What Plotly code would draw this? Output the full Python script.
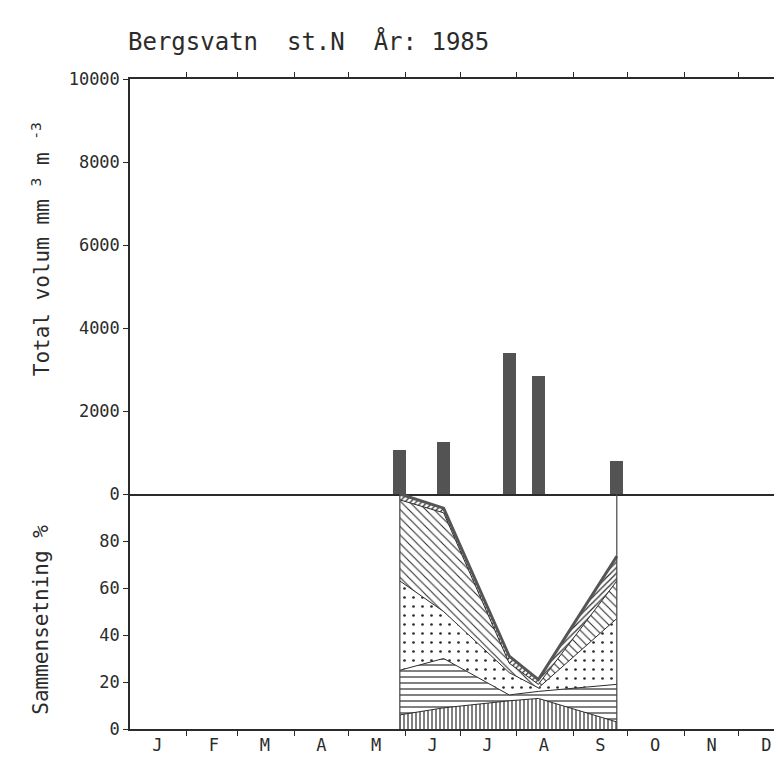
import datetime as dt
import plotly.graph_objects as go
from plotly.subplots import make_subplots

# ---------------- data ----------------
sample_dates = ["1985-05-29", "1985-06-22", "1985-07-28", "1985-08-13", "1985-09-25"]
total_volume = [1050, 1250, 3400, 2850, 800]          # mm3 m-3

# composition (%) per group, bottom to top
grp_vertical = [6, 9, 12, 13, 3]
grp_horizontal = [19, 21, 2.5, 3, 16]
grp_dotted = [38, 20, 9.5, 1.5, 28]
grp_backslash = [34.5, 42, 4, 1.5, 16]
grp_slash = [2.5, 2, 3, 2, 10.5]

month_letters = ["J", "F", "M", "A", "M", "J", "J", "A", "S", "O", "N", "D"]
vol_ticks = [0, 2000, 4000, 6000, 8000, 10000]
vol_tick_text = ["0", "2000", "4000", "6000", "8000", "10000"]
pct_ticks = [0, 20, 40, 60, 80]
pct_tick_text = ["0", "20", "40", "60", "80"]

YEAR = 1985
month_starts = [dt.date(YEAR, m, 1).isoformat() for m in range(2, 13)]
month_mids = [dt.date(YEAR, m, 16).isoformat() for m in range(1, 13)]

INK = "#2b2b2b"
FONT = "DejaVu Sans Mono"

fig = make_subplots(rows=2, cols=1, shared_xaxes=True, vertical_spacing=0,
                    row_heights=[415 / 650, 235 / 650])

# total volume bars
fig.add_trace(go.Bar(x=sample_dates, y=total_volume, width=7 * 86400000,
                     marker=dict(color="#535353", line=dict(width=0)),
                     showlegend=False), row=1, col=1)

layers = [
    (grp_vertical, dict(shape="|", size=4, solidity=0.3)),
    (grp_horizontal, dict(shape="-", size=6, solidity=0.2)),
    (grp_dotted, dict(shape=".", size=9, solidity=0.07)),
    (grp_backslash, dict(shape="\\", size=6, solidity=0.18)),
    (grp_slash, dict(shape="/", size=4, solidity=0.3)),
]
for i, (vals, pat) in enumerate(layers):
    last = i == len(layers) - 1
    pat.update(fgcolor=INK, bgcolor="white", fillmode="replace")
    fig.add_trace(go.Scatter(
        x=sample_dates, y=vals, stackgroup="comp", mode="lines",
        line=dict(color="#555555" if last else INK, width=3 if last else 1),
        fillcolor="white", fillpattern=pat, showlegend=False,
        hoverinfo="skip"), row=2, col=1)

# edges of the composition block at first and last sampling date
for d in (sample_dates[0], sample_dates[-1]):
    fig.add_trace(go.Scatter(x=[d, d], y=[0, 100], mode="lines",
                             line=dict(color="#444444", width=1.2),
                             showlegend=False, hoverinfo="skip"), row=2, col=1)

xrange = ["1985-01-01", "1985-12-29"]
axis_common = dict(showgrid=False, zeroline=False, showline=True,
                   linecolor=INK, linewidth=1.5, tickcolor=INK,
                   tickfont=dict(family=FONT, size=17, color=INK))

fig.update_xaxes(row=1, col=1, type="date", range=xrange, side="top",
                 mirror=True, tickmode="array", tickvals=month_starts,
                 ticks="outside", ticklen=5, showticklabels=False,
                 **{k: v for k, v in axis_common.items() if k != "tickfont"})
fig.update_xaxes(row=2, col=1, type="date", range=xrange,
                 tickmode="array", tickvals=month_mids, ticktext=month_letters,
                 ticks="", showticklabels=True,
                 minor=dict(tickmode="array", tickvals=month_starts,
                            ticks="outside", ticklen=5, tickcolor=INK),
                 **axis_common)
fig.update_yaxes(row=1, col=1, range=[0, 10000], tickmode="array",
                 tickvals=vol_ticks, ticktext=vol_tick_text,
                 ticks="outside", ticklen=5, **axis_common)
fig.update_yaxes(row=2, col=1, range=[0, 100], tickmode="array",
                 tickvals=pct_ticks, ticktext=pct_tick_text,
                 ticks="outside", ticklen=5, **axis_common)

fig.add_annotation(text="Bergsvatn  st.N  År: 1985", xref="paper", yref="paper",
                   x=-0.006, y=1 + 54 / 650, xanchor="left", yanchor="top",
                   showarrow=False, font=dict(family=FONT, size=24, color=INK))
fig.add_annotation(text="Total volum mm <sup>3</sup> m <sup>-3</sup>",
                   xref="paper", yref="paper", x=-0.135, y=0.738,
                   xanchor="center", yanchor="middle", textangle=-90,
                   showarrow=False, font=dict(family=FONT, size=21, color=INK))
fig.add_annotation(text="Sammensetning %", xref="paper", yref="paper",
                   x=-0.135, y=0.168, xanchor="center", yanchor="middle",
                   textangle=-90, showarrow=False,
                   font=dict(family=FONT, size=21, color=INK))

fig.update_layout(width=782, height=761, margin=dict(l=122, r=0, t=71, b=40),
                  paper_bgcolor="white", plot_bgcolor="white",
                  bargap=0, showlegend=False)

fig.write_html("out.html")
